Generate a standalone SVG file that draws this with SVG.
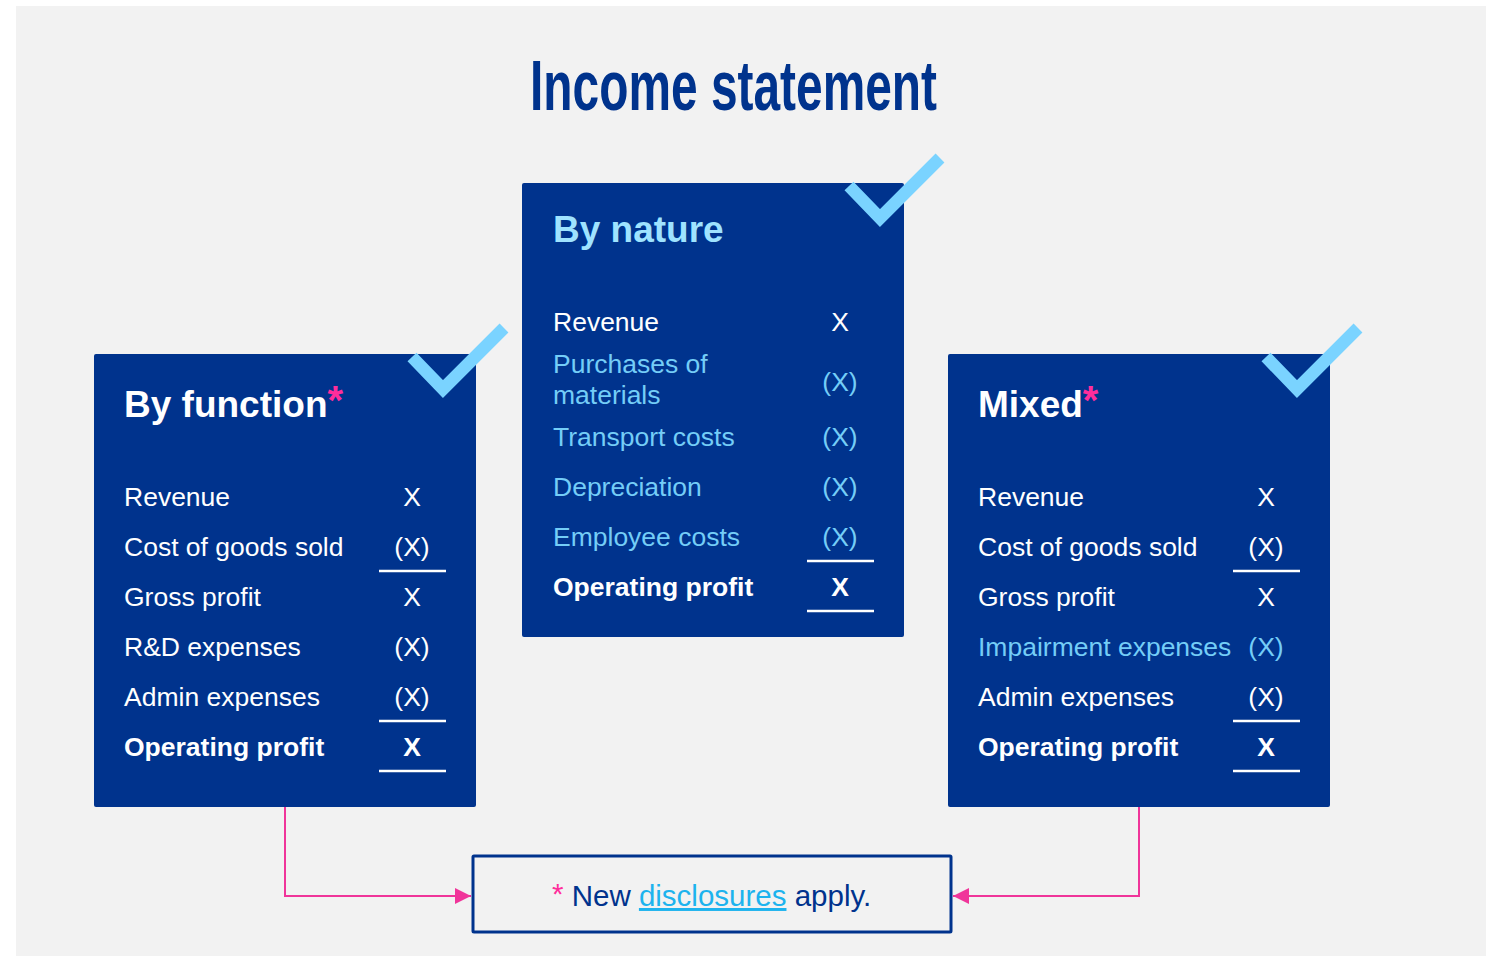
<svg xmlns="http://www.w3.org/2000/svg" width="1486" height="956" viewBox="0 0 1486 956">
<defs>
<style>
.box{fill:#00338D}
.t{font-family:"Liberation Sans",Arial,sans-serif;font-size:26.5px;fill:#ffffff}
.lb{fill:#74CDF7}
.b{font-weight:bold}
.h{font-family:"Liberation Sans",Arial,sans-serif;font-size:37px;font-weight:bold;fill:#ffffff}
.v{text-anchor:middle}
.ul{stroke:#ffffff;stroke-width:2.5}
.chk{fill:none;stroke:#7AD3FF;stroke-width:12.5;stroke-linejoin:miter;stroke-linecap:butt}
.star{fill:#FF2D9B}
.conn{fill:none;stroke:#F0359A;stroke-width:2}
</style>
<marker id="arr" viewBox="0 0 16 16" refX="16" refY="8" markerWidth="16" markerHeight="16" markerUnits="userSpaceOnUse" orient="auto">
<path d="M0,0 L16,8 L0,16 Z" fill="#F0359A"/>
</marker>
</defs>
<rect x="0" y="0" width="1486" height="956" fill="#ffffff"/>
<rect x="16" y="6" width="1470" height="950" fill="#F2F2F2"/>
<text id="title" x="530" y="110" textLength="407" lengthAdjust="spacingAndGlyphs" style="font-family:'Liberation Sans Narrow','Liberation Sans',Arial,sans-serif;font-size:71px;font-weight:bold;fill:#00338D">Income statement</text>

<g id="by-function">
<rect class="box" x="94" y="354" width="382" height="453" rx="2"/>
<polyline class="chk" points="412,357 443,389 504,328"/>
<text class="h" x="124" y="417">By function<tspan class="star" dy="-3" style="font-size:40px">*</tspan></text>
<text class="t" x="124" y="506">Revenue</text><text class="t v" x="412" y="506">X</text>
<text class="t" x="124" y="556">Cost of goods sold</text><text class="t v" x="412" y="556">(X)</text>
<line class="ul" x1="379" y1="571" x2="446" y2="571"/>
<text class="t" x="124" y="606">Gross profit</text><text class="t v" x="412" y="606">X</text>
<text class="t" x="124" y="656">R&amp;D expenses</text><text class="t v" x="412" y="656">(X)</text>
<text class="t" x="124" y="706">Admin expenses</text><text class="t v" x="412" y="706">(X)</text>
<line class="ul" x1="379" y1="721" x2="446" y2="721"/>
<text class="t b" x="124" y="756">Operating profit</text><text class="t b v" x="412" y="756">X</text>
<line class="ul" x1="379" y1="771" x2="446" y2="771"/>
</g>

<g id="by-nature">
<rect class="box" x="522" y="183" width="382" height="454" rx="2"/>
<polyline class="chk" points="849,186 880,218 940,158"/>
<text class="h" x="553" y="242" style="fill:#9FE3FF">By nature</text>
<text class="t" x="553" y="331">Revenue</text><text class="t v" x="840" y="331">X</text>
<text class="t lb" x="553" y="373">Purchases of</text>
<text class="t lb" x="553" y="404">materials</text><text class="t lb v" x="840" y="391">(X)</text>
<text class="t lb" x="553" y="446">Transport costs</text><text class="t lb v" x="840" y="446">(X)</text>
<text class="t lb" x="553" y="496">Depreciation</text><text class="t lb v" x="840" y="496">(X)</text>
<text class="t lb" x="553" y="546">Employee costs</text><text class="t lb v" x="840" y="546">(X)</text>
<line class="ul" x1="807" y1="561" x2="874" y2="561"/>
<text class="t b" x="553" y="596">Operating profit</text><text class="t b v" x="840" y="596">X</text>
<line class="ul" x1="807" y1="611" x2="874" y2="611"/>
</g>

<g id="mixed">
<rect class="box" x="948" y="354" width="382" height="453" rx="2"/>
<polyline class="chk" points="1266,357 1297,389 1358,328"/>
<text class="h" x="978" y="417">Mixed<tspan class="star" dy="-3" style="font-size:40px">*</tspan></text>
<text class="t" x="978" y="506">Revenue</text><text class="t v" x="1266" y="506">X</text>
<text class="t" x="978" y="556">Cost of goods sold</text><text class="t v" x="1266" y="556">(X)</text>
<line class="ul" x1="1233" y1="571" x2="1300" y2="571"/>
<text class="t" x="978" y="606">Gross profit</text><text class="t v" x="1266" y="606">X</text>
<text class="t lb" x="978" y="656">Impairment expenses</text><text class="t lb v" x="1266" y="656">(X)</text>
<text class="t" x="978" y="706">Admin expenses</text><text class="t v" x="1266" y="706">(X)</text>
<line class="ul" x1="1233" y1="721" x2="1300" y2="721"/>
<text class="t b" x="978" y="756">Operating profit</text><text class="t b v" x="1266" y="756">X</text>
<line class="ul" x1="1233" y1="771" x2="1300" y2="771"/>
</g>

<g id="note">
<rect x="473" y="856" width="478" height="76" rx="1" fill="none" stroke="#00338D" stroke-width="3"/>
<text x="552" y="906" style="font-family:'Liberation Sans',Arial,sans-serif;font-size:29.5px;fill:#00338D"><tspan class="star" dy="-2">*</tspan><tspan dy="2"> New </tspan><tspan style="fill:#1DB3EE;text-decoration:underline">disclosures</tspan> apply.</text>
</g>

<g id="connectors">
<polyline class="conn" points="285,807 285,896 471,896" marker-end="url(#arr)"/>
<polyline class="conn" points="1139,807 1139,896 953,896" marker-end="url(#arr)"/>
</g>
</svg>
